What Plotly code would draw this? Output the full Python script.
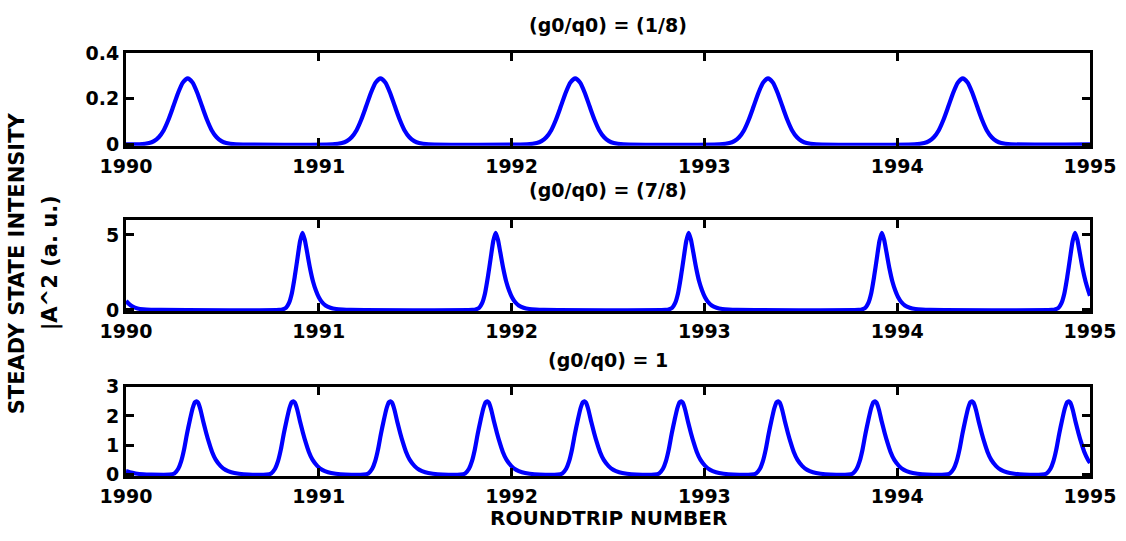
import plotly.graph_objects as go

# ---------------- data ----------------
# Panel 1: (g0/q0) = (1/8)
x1 = [1990.0,
      1990.07, 1990.12, 1990.145, 1990.17, 1990.195, 1990.22, 1990.245, 1990.27, 1990.295, 1990.32,
      1990.345, 1990.37, 1990.395, 1990.42, 1990.445, 1990.47, 1990.495, 1990.52, 1990.57,
      1991.07, 1991.12, 1991.145, 1991.17, 1991.195, 1991.22, 1991.245, 1991.27, 1991.295, 1991.32,
      1991.345, 1991.37, 1991.395, 1991.42, 1991.445, 1991.47, 1991.495, 1991.52, 1991.57,
      1992.08, 1992.13, 1992.155, 1992.18, 1992.205, 1992.23, 1992.255, 1992.28, 1992.305, 1992.33,
      1992.355, 1992.38, 1992.405, 1992.43, 1992.455, 1992.48, 1992.505, 1992.53, 1992.58,
      1993.08, 1993.13, 1993.155, 1993.18, 1993.205, 1993.23, 1993.255, 1993.28, 1993.305, 1993.33,
      1993.355, 1993.38, 1993.405, 1993.43, 1993.455, 1993.48, 1993.505, 1993.53, 1993.58,
      1994.09, 1994.14, 1994.165, 1994.19, 1994.215, 1994.24, 1994.265, 1994.29, 1994.315, 1994.34,
      1994.365, 1994.39, 1994.415, 1994.44, 1994.465, 1994.49, 1994.515, 1994.54, 1994.59,
      1995.0]
y1 = [0.0,
      0, 0.0055, 0.014, 0.031, 0.061, 0.108, 0.166, 0.226, 0.272, 0.29,
      0.272, 0.226, 0.166, 0.108, 0.061, 0.031, 0.014, 0.0055, 0,
      0, 0.0055, 0.014, 0.031, 0.061, 0.108, 0.166, 0.226, 0.272, 0.29,
      0.272, 0.226, 0.166, 0.108, 0.061, 0.031, 0.014, 0.0055, 0,
      0, 0.0055, 0.014, 0.031, 0.061, 0.108, 0.166, 0.226, 0.272, 0.29,
      0.272, 0.226, 0.166, 0.108, 0.061, 0.031, 0.014, 0.0055, 0,
      0, 0.0055, 0.014, 0.031, 0.061, 0.108, 0.166, 0.226, 0.272, 0.29,
      0.272, 0.226, 0.166, 0.108, 0.061, 0.031, 0.014, 0.0055, 0,
      0, 0.0055, 0.014, 0.031, 0.061, 0.108, 0.166, 0.226, 0.272, 0.29,
      0.272, 0.226, 0.166, 0.108, 0.061, 0.031, 0.014, 0.0055, 0,
      0.0]

# Panel 2: (g0/q0) = (7/8)
x2 = [1990.0, 1990.015, 1990.035, 1990.06, 1990.09, 1990.13, 1990.18,
      1990.795, 1990.815, 1990.83, 1990.845, 1990.86, 1990.875, 1990.89, 1990.903, 1990.915,
      1990.927, 1990.94, 1990.955, 1990.97, 1990.985, 1991.0, 1991.015, 1991.035, 1991.06,
      1991.09, 1991.125, 1991.165,
      1991.797, 1991.817, 1991.832, 1991.847, 1991.862, 1991.877, 1991.892, 1991.905, 1991.917,
      1991.929, 1991.942, 1991.957, 1991.972, 1991.987, 1992.002, 1992.017, 1992.037, 1992.062,
      1992.092, 1992.127, 1992.167,
      1992.798, 1992.818, 1992.833, 1992.848, 1992.863, 1992.878, 1992.893, 1992.906, 1992.918,
      1992.930, 1992.943, 1992.958, 1992.973, 1992.988, 1993.003, 1993.018, 1993.038, 1993.063,
      1993.093, 1993.128, 1993.168,
      1993.800, 1993.820, 1993.835, 1993.850, 1993.865, 1993.880, 1993.895, 1993.908, 1993.920,
      1993.932, 1993.945, 1993.960, 1993.975, 1993.990, 1994.005, 1994.020, 1994.040, 1994.065,
      1994.095, 1994.130, 1994.170,
      1994.802, 1994.822, 1994.837, 1994.852, 1994.867, 1994.882, 1994.897, 1994.910, 1994.922,
      1994.934, 1994.947, 1994.962, 1994.977, 1994.992, 1995.0]
y2 = [0.6, 0.4, 0.22, 0.1, 0.04, 0.01, 0.0,
      0, 0.05, 0.15, 0.45, 1.1, 2.2, 3.5, 4.6, 5.15,
      4.7, 3.8, 2.75, 1.9, 1.3, 0.85, 0.55, 0.3, 0.15,
      0.06, 0.02, 0,
      0, 0.05, 0.15, 0.45, 1.1, 2.2, 3.5, 4.6, 5.15,
      4.7, 3.8, 2.75, 1.9, 1.3, 0.85, 0.55, 0.3, 0.15,
      0.06, 0.02, 0,
      0, 0.05, 0.15, 0.45, 1.1, 2.2, 3.5, 4.6, 5.15,
      4.7, 3.8, 2.75, 1.9, 1.3, 0.85, 0.55, 0.3, 0.15,
      0.06, 0.02, 0,
      0, 0.05, 0.15, 0.45, 1.1, 2.2, 3.5, 4.6, 5.15,
      4.7, 3.8, 2.75, 1.9, 1.3, 0.85, 0.55, 0.3, 0.15,
      0.06, 0.02, 0,
      0, 0.05, 0.15, 0.45, 1.1, 2.2, 3.5, 4.6, 5.15,
      4.7, 3.8, 2.75, 1.9, 1.25, 0.95]

# Panel 3: (g0/q0) = 1
x3 = [1990.0, 1990.02, 1990.05, 1990.09, 1990.13,
      1990.226, 1990.251, 1990.271, 1990.286, 1990.301, 1990.316, 1990.331, 1990.346, 1990.358, 1990.366, 1990.374,
      1990.386, 1990.401, 1990.416, 1990.431, 1990.446, 1990.466, 1990.491, 1990.516, 1990.546, 1990.586, 1990.636,
      1990.728, 1990.753, 1990.773, 1990.788, 1990.803, 1990.818, 1990.833, 1990.848, 1990.860, 1990.868, 1990.876,
      1990.888, 1990.903, 1990.918, 1990.933, 1990.948, 1990.968, 1990.993, 1991.018, 1991.048, 1991.088, 1991.138,
      1991.232, 1991.257, 1991.277, 1991.292, 1991.307, 1991.322, 1991.337, 1991.352, 1991.364, 1991.372, 1991.380,
      1991.392, 1991.407, 1991.422, 1991.437, 1991.452, 1991.472, 1991.497, 1991.522, 1991.552, 1991.592, 1991.642,
      1991.734, 1991.759, 1991.779, 1991.794, 1991.809, 1991.824, 1991.839, 1991.854, 1991.866, 1991.874, 1991.882,
      1991.894, 1991.909, 1991.924, 1991.939, 1991.954, 1991.974, 1991.999, 1992.024, 1992.054, 1992.094, 1992.144,
      1992.238, 1992.263, 1992.283, 1992.298, 1992.313, 1992.328, 1992.343, 1992.358, 1992.370, 1992.378, 1992.386,
      1992.398, 1992.413, 1992.428, 1992.443, 1992.458, 1992.478, 1992.503, 1992.528, 1992.558, 1992.598, 1992.648,
      1992.740, 1992.765, 1992.785, 1992.800, 1992.815, 1992.830, 1992.845, 1992.860, 1992.872, 1992.880, 1992.888,
      1992.900, 1992.915, 1992.930, 1992.945, 1992.960, 1992.980, 1993.005, 1993.030, 1993.060, 1993.100, 1993.150,
      1993.243, 1993.268, 1993.288, 1993.303, 1993.318, 1993.333, 1993.348, 1993.363, 1993.375, 1993.383, 1993.391,
      1993.403, 1993.418, 1993.433, 1993.448, 1993.463, 1993.483, 1993.508, 1993.533, 1993.563, 1993.603, 1993.653,
      1993.745, 1993.770, 1993.790, 1993.805, 1993.820, 1993.835, 1993.850, 1993.865, 1993.877, 1993.885, 1993.893,
      1993.905, 1993.920, 1993.935, 1993.950, 1993.965, 1993.985, 1994.010, 1994.035, 1994.065, 1994.105, 1994.155,
      1994.248, 1994.273, 1994.293, 1994.308, 1994.323, 1994.338, 1994.353, 1994.368, 1994.380, 1994.388, 1994.396,
      1994.408, 1994.423, 1994.438, 1994.453, 1994.468, 1994.488, 1994.513, 1994.538, 1994.568, 1994.608, 1994.658,
      1994.750, 1994.775, 1994.795, 1994.810, 1994.825, 1994.840, 1994.855, 1994.870, 1994.882, 1994.890, 1994.898,
      1994.910, 1994.925, 1994.940, 1994.955, 1994.970, 1994.990, 1995.0]
y3 = [0.12, 0.08, 0.04, 0.01, 0.0,
      0, 0.04, 0.2, 0.45, 0.85, 1.38, 1.85, 2.27, 2.47, 2.5, 2.45,
      2.22, 1.8, 1.42, 1.08, 0.78, 0.5, 0.29, 0.16, 0.08, 0.03, 0,
      0, 0.04, 0.2, 0.45, 0.85, 1.38, 1.85, 2.27, 2.47, 2.5, 2.45,
      2.22, 1.8, 1.42, 1.08, 0.78, 0.5, 0.29, 0.16, 0.08, 0.03, 0,
      0, 0.04, 0.2, 0.45, 0.85, 1.38, 1.85, 2.27, 2.47, 2.5, 2.45,
      2.22, 1.8, 1.42, 1.08, 0.78, 0.5, 0.29, 0.16, 0.08, 0.03, 0,
      0, 0.04, 0.2, 0.45, 0.85, 1.38, 1.85, 2.27, 2.47, 2.5, 2.45,
      2.22, 1.8, 1.42, 1.08, 0.78, 0.5, 0.29, 0.16, 0.08, 0.03, 0,
      0, 0.04, 0.2, 0.45, 0.85, 1.38, 1.85, 2.27, 2.47, 2.5, 2.45,
      2.22, 1.8, 1.42, 1.08, 0.78, 0.5, 0.29, 0.16, 0.08, 0.03, 0,
      0, 0.04, 0.2, 0.45, 0.85, 1.38, 1.85, 2.27, 2.47, 2.5, 2.45,
      2.22, 1.8, 1.42, 1.08, 0.78, 0.5, 0.29, 0.16, 0.08, 0.03, 0,
      0, 0.04, 0.2, 0.45, 0.85, 1.38, 1.85, 2.27, 2.47, 2.5, 2.45,
      2.22, 1.8, 1.42, 1.08, 0.78, 0.5, 0.29, 0.16, 0.08, 0.03, 0,
      0, 0.04, 0.2, 0.45, 0.85, 1.38, 1.85, 2.27, 2.47, 2.5, 2.45,
      2.22, 1.8, 1.42, 1.08, 0.78, 0.5, 0.29, 0.16, 0.08, 0.03, 0,
      0, 0.04, 0.2, 0.45, 0.85, 1.38, 1.85, 2.27, 2.47, 2.5, 2.45,
      2.22, 1.8, 1.42, 1.08, 0.78, 0.5, 0.29, 0.16, 0.08, 0.03, 0,
      0, 0.04, 0.2, 0.45, 0.85, 1.38, 1.85, 2.27, 2.47, 2.5, 2.45,
      2.22, 1.8, 1.42, 1.08, 0.78, 0.5, 0.4]

x_ticks = [1990, 1991, 1992, 1993, 1994, 1995]
x_ticklabels = ["1990", "1991", "1992", "1993", "1994", "1995"]
y1_ticks, y1_labels = [0, 0.2, 0.4], ["0", "0.2", "0.4"]
y2_ticks, y2_labels = [0, 5], ["0", "5"]
y3_ticks, y3_labels = [0, 1, 2, 3], ["0", "1", "2", "3"]
titles = ["(g0/q0) = (1/8)", "(g0/q0) = (7/8)", "(g0/q0) = 1"]
ylabel_lines = ["STEADY STATE INTENSITY", "|A^2 (a. u.)"]
xlabel = "ROUNDTRIP NUMBER"

# ---------------- figure ----------------
W, H = 1126, 541
L, R = 126, 36
FONT = "DejaVu Sans"
BLUE = "#0000FF"

fig = go.Figure()
for i, (xs, ys) in enumerate([(x1, y1), (x2, y2), (x3, y3)], start=1):
    fig.add_trace(go.Scatter(
        x=xs, y=ys, mode="lines",
        line=dict(color=BLUE, width=4.2, shape="spline", smoothing=0.6),
        xaxis="x" if i == 1 else f"x{i}",
        yaxis="y" if i == 1 else f"y{i}",
        showlegend=False, hoverinfo="skip",
    ))

def px_to_paper_y(px):
    return (H - px) / H

# plot areas (top px, bottom px)
areas = [(44, 140), (217, 312), (390, 483)]
yranges = [(0.4, y1_ticks, y1_labels), (6, y2_ticks, y2_labels), (3, y3_ticks, y3_labels)]

tickfont = dict(family=FONT, size=19, color="black", weight="bold")
layout = dict(
    width=W, height=H,
    margin=dict(l=L, r=R, t=0, b=0),
    paper_bgcolor="white", plot_bgcolor="white",
    showlegend=False,
)

for i, ((top, bot), (ymax, yt, yl)) in enumerate(zip(areas, yranges), start=1):
    sfx = "" if i == 1 else str(i)
    hpx = bot - top
    ymin = -ymax / hpx * 1.6
    layout[f"xaxis{sfx}"] = dict(
        domain=[0, 1], anchor=f"y{sfx}", range=[1990, 1995],
        tickvals=x_ticks, ticktext=x_ticklabels,
        ticks="inside", ticklen=8, tickwidth=3, tickcolor="black",
        showline=True, linewidth=3, linecolor="black", mirror="ticks",
        showgrid=False, zeroline=False, tickfont=tickfont,
        ticklabelstandoff=1,
    )
    layout[f"yaxis{sfx}"] = dict(
        domain=[px_to_paper_y(bot), px_to_paper_y(top)], anchor=f"x{sfx}",
        range=[ymin, ymax],
        tickvals=yt, ticktext=yl,
        ticks="inside", ticklen=8, tickwidth=3, tickcolor="black",
        showline=True, linewidth=3, linecolor="black", mirror="ticks",
        showgrid=False, zeroline=False, tickfont=tickfont,
        ticklabelstandoff=0,
    )

fig.update_layout(**layout)

title_centers = [15, 186, 362]
for t, cy in zip(titles, title_centers):
    fig.add_annotation(
        text=t, xref="paper", yref="paper", x=0.5, y=px_to_paper_y(cy),
        xanchor="center", yanchor="middle", showarrow=False,
        font=dict(family=FONT, size=19, color="black", weight="bold"),
    )

fig.add_annotation(
    text=xlabel, xref="paper", yref="paper", x=0.5, y=px_to_paper_y(526),
    xanchor="center", yanchor="middle", showarrow=False,
    font=dict(family=FONT, size=20, color="black", weight="bold"),
)

plot_w = W - L - R
for txt, cx in zip(ylabel_lines, [17, 50]):
    fig.add_annotation(
        text=txt, xref="paper", yref="paper",
        x=(cx - L) / plot_w, y=px_to_paper_y(262),
        xanchor="center", yanchor="middle", showarrow=False, textangle=-90,
        font=dict(family=FONT, size=21, color="black", weight="bold"),
    )

fig.write_html("out.html")
